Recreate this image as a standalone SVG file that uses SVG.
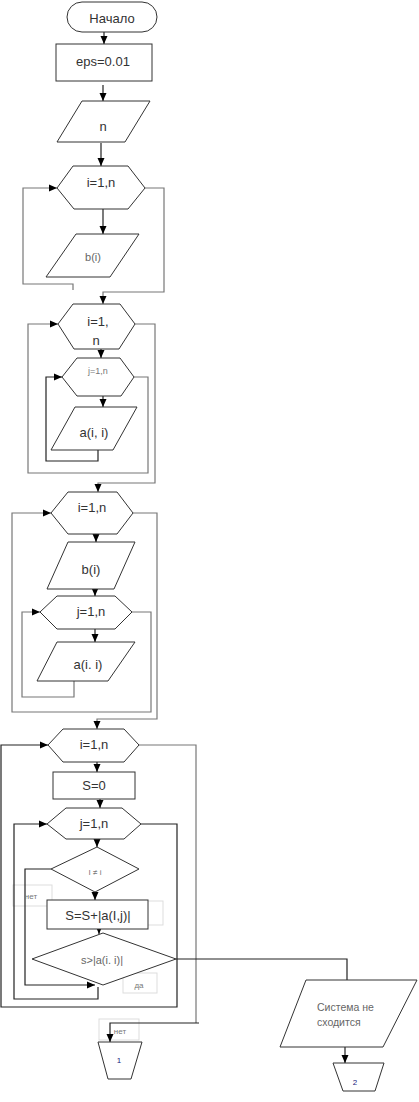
<svg xmlns="http://www.w3.org/2000/svg" width="419" height="1102" viewBox="0 0 419 1102">
<style>
.s{fill:#fff;stroke:#333;stroke-width:1}
.lb{fill:none;stroke:#ddd;stroke-width:1}
.c{fill:none;stroke:#222;stroke-width:1.2}
.g{fill:none;stroke:#777;stroke-width:1.2}
.t{font-family:"Liberation Sans",Arial,sans-serif;font-size:13px;fill:#333;text-anchor:middle}
.sm{font-family:"Liberation Sans",Arial,sans-serif;font-size:11px;fill:#666;text-anchor:middle}
.xs{font-family:"Liberation Sans",Arial,sans-serif;font-size:8px;fill:#777;text-anchor:middle}
.nv{font-family:"Liberation Sans",Arial,sans-serif;font-size:8px;fill:#1a237e;text-anchor:middle}
</style>
<defs>
<marker id="ah" markerWidth="8" markerHeight="8" refX="8" refY="4" orient="auto" markerUnits="userSpaceOnUse"><path d="M0,0.5 L8,4 L0,7.5 z" fill="#000"/></marker>
</defs>
<rect width="419" height="1102" fill="#fff"/>

<g id="labels-bg">
<rect class="lb" x="13" y="885" width="39" height="21"/>
<rect class="lb" x="140" y="901" width="23" height="24"/>
<rect class="lb" x="123" y="973" width="34" height="20"/>
<rect class="lb" x="99" y="1019" width="40" height="21"/>
</g>

<g id="connectors">
<path class="c" d="M104,32 V44" marker-end="url(#ah)"/>
<path class="c" d="M103,85 V101" marker-end="url(#ah)"/>
<path class="c" d="M101,143 V166" marker-end="url(#ah)"/>
<path class="g" d="M73,290 V284 H23 V188 H57" marker-end="url(#ah)"/>
<path class="c" d="M103,209 V234" marker-end="url(#ah)"/>
<path class="g" d="M145,188 H164 V292 H103 V304" marker-end="url(#ah)"/>
<path class="c" d="M101,337 V358" marker-end="url(#ah)"/>
<path class="c" d="M98,450 V461 H46 V377 H62" marker-end="url(#ah)"/>
<path class="g" d="M134,377 H148 V473 H28 V324 H58" marker-end="url(#ah)"/>
<path class="c" d="M103,396 V407" marker-end="url(#ah)"/>
<path class="g" d="M135,324 H155 V483 H98 V492" marker-end="url(#ah)"/>
<path class="c" d="M96,534 V542" marker-end="url(#ah)"/>
<path class="c" d="M95,589 V596" marker-end="url(#ah)"/>
<path class="c" d="M95,629 V642" marker-end="url(#ah)"/>
<path class="g" d="M74,681 V697 H22 V612 H40" marker-end="url(#ah)"/>
<path class="g" d="M132,612 H151 V712 H12 V513 H51" marker-end="url(#ah)"/>
<path class="g" d="M133,513 H157 V719 H97 V729" marker-end="url(#ah)"/>
<path class="c" d="M97,762 V772" marker-end="url(#ah)"/>
<path class="c" d="M100,799 V808" marker-end="url(#ah)"/>
<path class="c" d="M97,839 V847" marker-end="url(#ah)"/>
<path class="c" d="M141,824 H177 V1007 H1 V745 H48" marker-end="url(#ah)"/>
<path class="g" d="M139,745 H196 V1023"/>
<path class="c" d="M199,1023 H110 V1042" marker-end="url(#ah)"/>
<path class="c" d="M98,987 V999 H14 V824 H47" marker-end="url(#ah)"/>
<path class="c" d="M51,869 H25 V985 H95" marker-end="url(#ah)"/>
<path class="c" d="M95,892 V900" marker-end="url(#ah)"/>
<path class="c" d="M99,929 V934" marker-end="url(#ah)"/>
<path class="c" d="M176,959 H347 V980"/>
<path class="c" d="M345,1047 V1063" marker-end="url(#ah)"/>
</g>

<g id="start"><rect class="s" x="67" y="2" width="90" height="30" rx="15"/><text class="t" x="112" y="23">Начало</text></g>
<g id="eps"><rect class="s" x="56" y="44" width="96" height="37"/><text class="t" x="103" y="66">eps=0.01</text></g>
<g id="in-n"><polygon class="s" points="82,101 150,101 125,142 57,142"/><text class="t" x="103" y="131">n</text></g>
<g id="loop1-i"><polygon class="s" points="57,188 73,166 128,166 145,188 128,209 74,209"/><text class="t" x="101" y="187">i=1,n</text></g>
<g id="in-b1"><polygon class="s" points="76,234 139,234 110,277 46,277"/><text class="sm" x="93" y="261">b(i)</text></g>

<g id="loop2-i"><polygon class="s" points="58,324 73,304 120,304 135,324 119,349 74,349"/><text class="t" x="98" y="326">i=1,</text><text class="t" x="96" y="345">n</text></g>
<g id="loop2-j"><polygon class="s" points="62,377 77,358 120,358 134,377 121,396 77,396"/><text class="xs" x="98" y="374" style="font-size:9px">j=1,n</text></g>
<g id="in-a2"><polygon class="s" points="75,407 137,407 113,450 51,450"/><text class="t" x="94" y="437">a(i, i)</text></g>

<g id="loop3-i"><polygon class="s" points="51,513 68,492 117,492 133,513 117,534 68,534"/><text class="t" x="92" y="512">i=1,n</text></g>
<g id="in-b3"><polygon class="s" points="68,542 135,542 114,589 47,589"/><text class="t" x="91" y="574">b(i)</text></g>
<g id="loop3-j"><polygon class="s" points="40,612 57,596 115,596 132,612 115,629 57,629"/><text class="t" x="91" y="616">j=1,n</text></g>
<g id="in-a3"><polygon class="s" points="57,642 135,642 108,681 37,681"/><text class="t" x="88" y="669">a(i. i)</text></g>

<g id="loop4-i"><polygon class="s" points="48,745 63,729 124,729 139,745 124,762 63,762"/><text class="t" x="94" y="749">i=1,n</text></g>
<g id="s0"><rect class="s" x="53" y="772" width="82" height="27"/><text class="t" x="94" y="790">S=0</text></g>
<g id="loop4-j"><polygon class="s" points="47,824 66,808 122,808 141,824 124,839 66,839"/><text class="t" x="94" y="828">j=1,n</text></g>
<g id="cond-ij"><polygon class="s" points="97,847 139,869 95,892 51,869"/><text class="xs" x="95" y="875">I ≠ i</text></g>
<g id="sum"><rect class="s" x="47" y="900" width="101" height="29"/><text class="t" x="98" y="920">S=S+|a(I,j)|</text></g>
<g id="cond-s"><polygon class="s" points="103,933 176,959 103,985 32,959"/><text class="sm" x="102" y="964">s&gt;|a(i. i)|</text></g>
<g id="out-msg"><polygon class="s" points="306,980 417,980 383,1047 280,1047"/><text class="sm" x="317" y="1011" style="text-anchor:start;font-size:10.5px">Система не</text><text class="sm" x="317" y="1026" style="text-anchor:start;font-size:10.5px">сходится</text></g>
<g id="end1"><polygon class="s" points="98,1042 142,1042 131,1079 108,1079"/><text class="nv" x="119" y="1063">1</text></g>
<g id="end2"><polygon class="s" points="333,1063 384,1063 375,1091 343,1091"/><text class="nv" x="355" y="1085">2</text></g>

<g id="label-texts">
<text class="xs" x="31" y="899">нет</text>
<text class="xs" x="139" y="988">да</text>
<text class="xs" x="120" y="1034">нет</text>
</g>
</svg>
